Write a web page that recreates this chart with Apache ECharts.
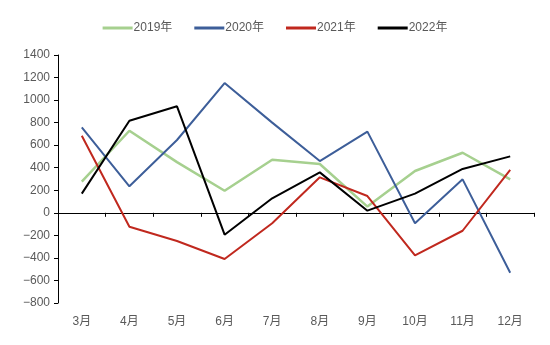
<!DOCTYPE html>
<html><head><meta charset="utf-8">
<script src="https://cdn.jsdelivr.net/npm/echarts@6/dist/echarts.min.js"></script>
<style>html,body{margin:0;padding:0;background:#fff}#c{width:550px;height:345px}</style>
</head><body><div id="c"></div>
<script>
const categories = ['3月','4月','5月','6月','7月','8月','9月','10月','11月','12月'];
const s2019 = [276, 728, 450, 196, 471, 433, 55, 371, 533, 297];
const s2020 = [758, 235, 646, 1151, 800, 459, 720, -93, 297, -531];
const s2021 = [684, -123, -250, -410, -93, 315, 149, -377, -159, 380];
const s2022 = [170, 817, 945, -194, 129, 359, 19, 170, 389, 501];
const seriesNames = ['2019年','2020年','2021年','2022年'];
const colors = ['#A6D08F','#3D5E99','#C0281E','#000000'];
const font = '"Liberation Sans", "Noto Sans CJK SC", sans-serif';
const chart = echarts.init(document.getElementById('c'));
const data = [s2019, s2020, s2021, s2022];
chart.setOption({
  animation: false,
  color: colors,
  legend: {
    top: 17, left: 'center', itemWidth: 30, itemHeight: 3, itemGap: 22,
    icon: 'rect',
    textStyle: {color: '#595959', fontSize: 12, fontFamily: font, padding: [0,0,0,-4]},
    data: seriesNames
  },
  grid: {left: 58, right: 16, top: 55, bottom: 42},
  xAxis: [{
    type: 'category', data: categories, boundaryGap: true,
    axisLine: {onZero: true, lineStyle: {color: '#000', width: 1}},
    axisTick: {show: true, inside: false, length: 4, lineStyle: {color: '#000'}},
    axisLabel: {show: false}
  }, {
    type: 'category', data: categories, position: 'bottom', boundaryGap: true,
    axisLine: {show: false}, axisTick: {show: false},
    axisLabel: {color: '#595959', fontSize: 12, fontFamily: font, margin: 13}
  }],
  yAxis: {
    type: 'value', min: -800, max: 1400, interval: 200,
    axisLine: {show: true, lineStyle: {color: '#000', width: 1}},
    axisTick: {show: true, length: 4, lineStyle: {color: '#000'}},
    splitLine: {show: false},
    axisLabel: {color: '#595959', fontSize: 12, fontFamily: font, margin: 8,
      formatter: v => v < 0 ? '\u2212' + (-v) : String(v)}
  },
  series: data.map((d, i) => ({
    name: seriesNames[i], type: 'line', data: d, xAxisIndex: 0,
    symbol: 'none', lineStyle: {width: i === 0 ? 2.5 : 2, color: colors[i]},
    itemStyle: {color: colors[i]}
  }))
});
</script></body></html>
